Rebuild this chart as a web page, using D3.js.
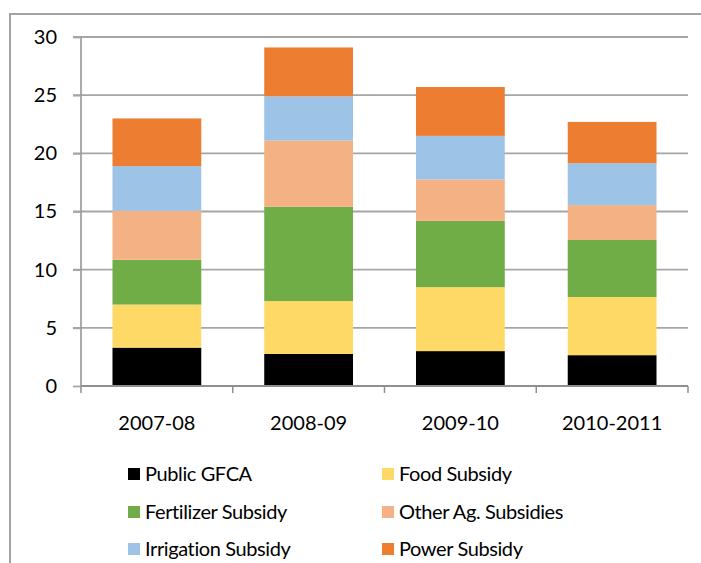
<!DOCTYPE html>
<html><head><meta charset="utf-8">
<script src="https://cdn.jsdelivr.net/npm/d3@7"></script>
<style>body{margin:0;background:#fff}svg{display:block}text{font-family:Lato,"Open Sans",sans-serif;fill:#000}</style>
</head><body><svg id="c" width="701" height="563"></svg>
<script>
const categories = ["2007-08","2008-09","2009-10","2010-2011"];
const seriesNames = ["Public GFCA","Food Subsidy","Fertilizer Subsidy","Other Ag. Subsidies","Irrigation Subsidy","Power Subsidy"];
const publicGFCA = [3.3, 2.75, 3.0, 2.65];
const foodSubsidy = [3.7, 4.55, 5.5, 5.0];
const fertilizerSubsidy = [3.85, 8.1, 5.7, 4.9];
const otherAgSubsidies = [4.2, 5.7, 3.55, 3.0];
const irrigationSubsidy = [3.85, 3.8, 3.75, 3.6];
const powerSubsidy = [4.1, 4.2, 4.2, 3.55];
const yTicks = [0,5,10,15,20,25,30];
const colors = ["#000000","#FFD966","#70AD47","#F4B183","#9DC3E6","#ED7D31"];

const seriesValues = [publicGFCA, foodSubsidy, fertilizerSubsidy, otherAgSubsidies, irrigationSubsidy, powerSubsidy];
const rows = categories.map((c,i)=>{const r={cat:c}; seriesNames.forEach((s,j)=>r[s]=seriesValues[j][i]); return r;});
const stacked = d3.stack().keys(seriesNames)(rows);

const svg = d3.select("#c");
// outer frame
svg.append("path").attr("d","M10,563V14H701").attr("fill","none").attr("stroke","#a3a3a3").attr("stroke-width",2);

const x = d3.scaleBand().domain(categories).range([81,688]).paddingInner(0.415).paddingOuter(0.2075);
const y = d3.scaleLinear().domain([0,30]).range([386,37]);

// gridlines
svg.append("g").selectAll("line").data(yTicks.filter(t=>t>0)).join("line")
  .attr("x1",73).attr("x2",688).attr("y1",d=>y(d)).attr("y2",d=>y(d))
  .attr("stroke","#a6a6a6").attr("stroke-width",1.8);

// y axis
const ya = svg.append("g").attr("transform","translate(81,0)").call(d3.axisLeft(y).tickValues(yTicks).tickSize(8).tickPadding(16));
ya.select(".domain").attr("stroke","#8f8f8f").attr("stroke-width",1.5).attr("d","M0,386V37");
ya.selectAll(".tick line").attr("stroke","#a6a6a6").attr("stroke-width",1.8);
ya.selectAll("text").attr("font-size",20).attr("font-family","Lato").attr("fill","#000");

// bars
svg.append("g").selectAll("g").data(stacked).join("g").attr("fill",(d,i)=>colors[i])
  .selectAll("rect").data(d=>d).join("rect")
  .attr("x",d=>x(d.data.cat)).attr("width",x.bandwidth())
  .attr("y",d=>y(d[1])).attr("height",d=>y(d[0])-y(d[1]));

// x axis
const xa = svg.append("g").attr("transform","translate(0,386)").call(d3.axisBottom(x).tickSize(0).tickPadding(30));
xa.select(".domain").remove();
xa.selectAll("text").attr("font-size",20).attr("font-family","Lato").attr("fill","#000");
svg.append("line").attr("x1",81).attr("x2",688).attr("y1",386).attr("y2",386).attr("stroke","#8f8f8f").attr("stroke-width",2);
const bounds = categories.map(c=>x(c)-x.step()*x.paddingInner()/2).concat([688]);
bounds[0]=81;
svg.append("g").selectAll("line").data(bounds).join("line")
  .attr("x1",d=>d).attr("x2",d=>d).attr("y1",386).attr("y2",393).attr("stroke","#8f8f8f").attr("stroke-width",1.5);

// legend
const legPos = [[128,474],[382,474],[128,512],[382,512],[128,549],[382,549]];
const lg = svg.append("g").selectAll("g").data(seriesNames).join("g")
  .attr("transform",(d,i)=>`translate(${legPos[i][0]},${legPos[i][1]})`);
lg.append("rect").attr("x",0).attr("y",-6).attr("width",12).attr("height",12).attr("fill",(d,i)=>colors[i]);
lg.append("text").attr("x",17).attr("y",0).attr("dy","0.36em").attr("font-size",20).attr("letter-spacing","-0.4px").text(d=>d);
</script></body></html>
